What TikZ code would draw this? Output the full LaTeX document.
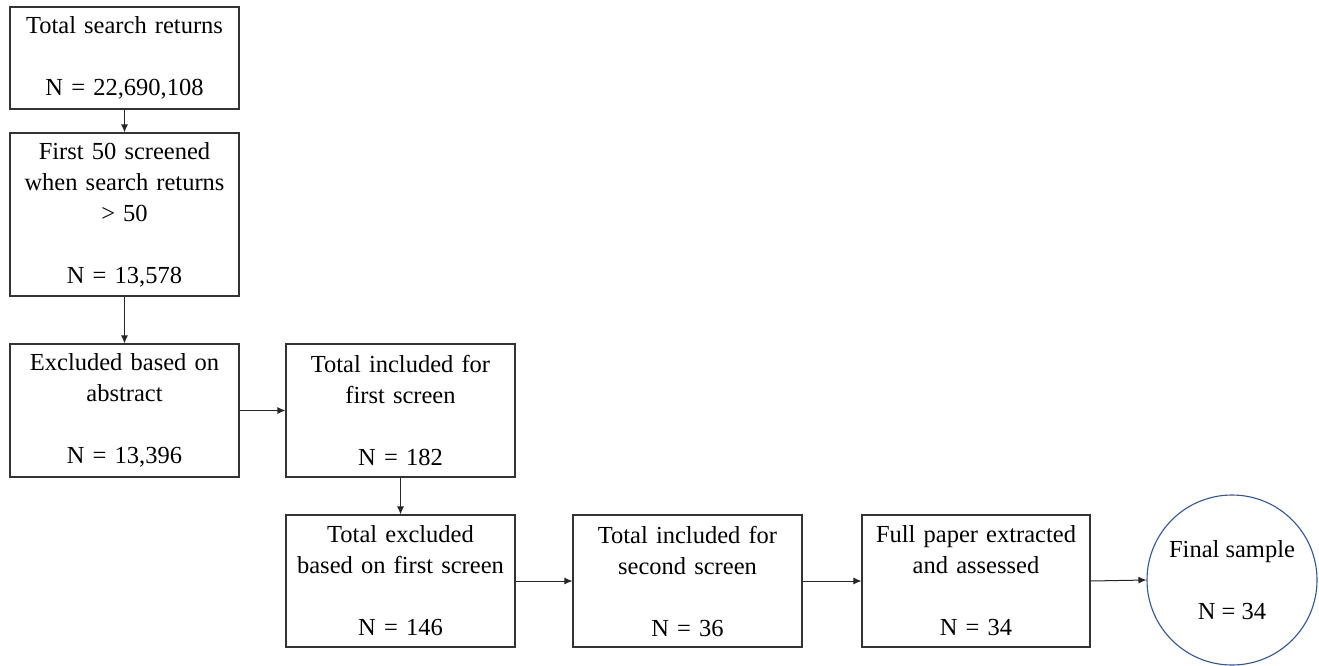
\documentclass[tikz,border=0pt]{standalone}
\usepackage{fontspec}
\setmainfont{Liberation Serif}
\usepackage{xcolor}
\usepackage{tikz}
\usetikzlibrary{shapes, arrows.meta, positioning, calc}
\definecolor{sampleblue}{HTML}{2F5597}

\begin{document}
\begin{tikzpicture}[x=1pt, y=-1pt,
    flowbox/.style={draw=black!80, line width=1.1pt, minimum width=229pt, text width=222pt,
        align=center, inner sep=0pt, font=\fontsize{24.5}{31}\selectfont},
    flowarrow/.style={draw=black!85, line width=1pt, -{Latex[length=8pt, width=7pt]}}]
    \useasboundingbox (0,0) rectangle (1319,666);

    % Search and first screening (left column)
    \node[flowbox, minimum height=102pt] (returns) at (124.5,58) {Total search returns\\[31pt] N = 22,690,108};
    \node[flowbox, minimum height=163pt] (first50) at (124.5,214.5) {First 50 screened\\ when search returns\\ > 50\\[31pt] N = 13,578};
    \node[flowbox, minimum height=133pt] (abstract) at (124.5,410.5) {Excluded based on\\ abstract\\[31pt] N = 13,396};

    % Included for first screen
    \node[flowbox, minimum height=133pt] (inclFirst) at (400.5,410.5) {Total included for\\ first screen\\[31pt] N = 182};

    % Bottom row
    \node[flowbox, minimum height=132pt] (exclFirst) at (400.5,581) {Total excluded\\ based on first screen\\[31pt] N = 146};
    \node[flowbox, minimum height=132pt] (inclSecond) at (687.5,581) {Total included for\\ second screen\\[31pt] N = 36};
    \node[flowbox, minimum height=132pt, minimum width=228pt] (fullPaper) at (976,581) {Full paper extracted\\ and assessed\\[31pt] N = 34};
    \node[circle, draw=sampleblue, line width=1.1pt, minimum size=170pt, inner sep=0pt,
        align=center, font=\fontsize{24.5}{31}\selectfont] (final) at (1232,580) {Final sample\\[31pt] N = 34};

    % Arrows
    \draw[flowarrow] (returns) -- (first50);
    \draw[flowarrow] (first50) -- (abstract);
    \draw[flowarrow] (abstract) -- (inclFirst);
    \draw[flowarrow] (inclFirst) -- (exclFirst);
    \draw[flowarrow] (exclFirst) -- (inclSecond);
    \draw[flowarrow] (inclSecond) -- (fullPaper);
    \draw[flowarrow] (fullPaper.east) -- (final.west);
\end{tikzpicture}
\end{document}
